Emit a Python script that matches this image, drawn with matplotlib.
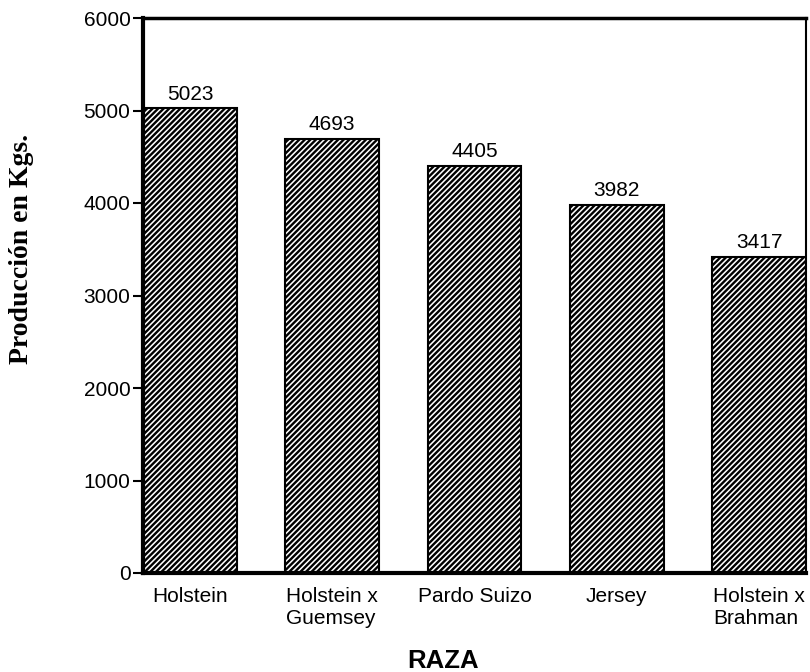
import matplotlib
matplotlib.use("Agg")
import matplotlib.pyplot as plt

# Milk production per breed (kg)
razas = ["Holstein", "Holstein x\nGuemsey", "Pardo Suizo", "Jersey", "Holstein x\nBrahman"]
produccion = [5023, 4693, 4405, 3982, 3417]
y_ticks = [0, 1000, 2000, 3000, 4000, 5000, 6000]

plt.rcParams["hatch.linewidth"] = 1.7
plt.rcParams["font.family"] = ["Liberation Sans", "DejaVu Sans"]

fig = plt.figure(figsize=(8.1, 6.72), dpi=100)
ax = fig.add_axes([143 / 810, 99 / 672, 663 / 810, 555 / 672])

x = list(range(len(razas)))
bars = ax.bar(x, produccion, width=0.66, color="white", edgecolor="black",
              linewidth=1.5, hatch="//////", zorder=2)

for xi, v in zip(x, produccion):
    ax.text(xi, v + 50, f"{v}", ha="center", va="bottom", fontsize=15)

ax.set_xlim(-0.33, len(razas) - 1 + 0.33)
ax.set_ylim(0, 6000)
ax.set_yticks(y_ticks)
ax.set_yticklabels([str(t) for t in y_ticks], fontsize=15)
ax.tick_params(axis="y", length=7, width=1.5, direction="out", pad=2)

ax.set_xticks(x)
ax.set_xticklabels(razas, fontsize=15, ha="center", linespacing=1.2)
for lbl in ax.get_xticklabels():
    lbl.set_multialignment("left")
ax.tick_params(axis="x", length=0, pad=10)

for side, lw in (("left", 3.0), ("bottom", 3.0), ("top", 2.5), ("right", 1.5)):
    ax.spines[side].set_linewidth(lw)
    ax.spines[side].set_color("black")

fig.text(22 / 810, 1 - 249 / 672, "Producción en Kgs.", rotation=90,
         ha="center", va="center", fontsize=20, fontweight="bold",
         family=["Liberation Serif", "DejaVu Serif"])
fig.text(443 / 810, 1 - 661 / 672, "RAZA", ha="center", va="center",
         fontsize=18.5, fontweight="bold")

fig.savefig("out.png", dpi=100)
